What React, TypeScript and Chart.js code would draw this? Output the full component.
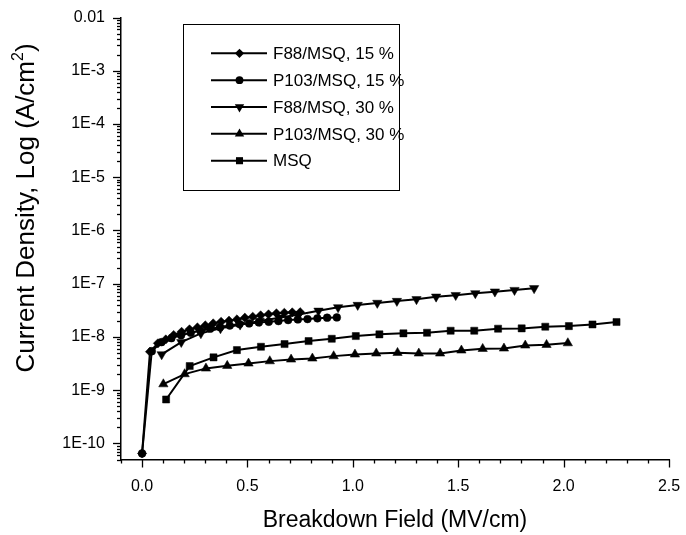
import React, { useEffect, useRef } from 'react';
import { Chart, registerables } from 'chart.js';
Chart.register(...registerables);

const FONT = '"Liberation Sans", Arial, Helvetica, sans-serif';

const xTickValues = [0, 0.5, 1.0, 1.5, 2.0, 2.5];
const xTickLabels = ['0.0', '0.5', '1.0', '1.5', '2.0', '2.5'];
const yTickValues = [1e-10, 1e-9, 1e-8, 1e-7, 1e-6, 1e-5, 1e-4, 1e-3, 1e-2];
const yTickLabels = ['1E-10', '1E-9', '1E-8', '1E-7', '1E-6', '1E-5', '1E-4', '1E-3', '0.01'];

const seriesNames = ['F88/MSQ, 15 %', 'P103/MSQ, 15 %', 'F88/MSQ, 30 %', 'P103/MSQ, 30 %', 'MSQ'];

const f88_15_x = [0, 0.0375, 0.075, 0.1125, 0.15, 0.1875, 0.225, 0.2625, 0.3, 0.3375, 0.375, 0.4125, 0.45, 0.4875, 0.525, 0.5625, 0.6, 0.6375, 0.675, 0.7125, 0.75];
const f88_15_y = [6.5e-11, 5.3e-9, 7.6e-9, 9.0e-9, 1.09e-8, 1.25e-8, 1.39e-8, 1.51e-8, 1.65e-8, 1.8e-8, 1.93e-8, 2.02e-8, 2.14e-8, 2.3e-8, 2.4e-8, 2.55e-8, 2.66e-8, 2.78e-8, 2.85e-8, 2.9e-8, 2.92e-8];
const p103_15_x = [0, 0.046, 0.092, 0.139, 0.185, 0.231, 0.277, 0.323, 0.37, 0.416, 0.462, 0.508, 0.554, 0.601, 0.647, 0.693, 0.739, 0.785, 0.832, 0.878, 0.924];
const p103_15_y = [6.5e-11, 5.4e-9, 8.0e-9, 9.5e-9, 1.08e-8, 1.2e-8, 1.31e-8, 1.43e-8, 1.53e-8, 1.64e-8, 1.75e-8, 1.8e-8, 1.88e-8, 1.93e-8, 1.99e-8, 2.08e-8, 2.14e-8, 2.17e-8, 2.24e-8, 2.3e-8, 2.33e-8];
const f88_30_x = [0.093, 0.186, 0.279, 0.372, 0.465, 0.558, 0.651, 0.744, 0.837, 0.93, 1.023, 1.116, 1.209, 1.302, 1.395, 1.488, 1.581, 1.674, 1.767, 1.86];
const f88_30_y = [4.7e-9, 8.0e-9, 1.17e-8, 1.45e-8, 1.7e-8, 2.0e-8, 2.3e-8, 2.65e-8, 3.1e-8, 3.6e-8, 3.98e-8, 4.35e-8, 4.73e-8, 5.1e-8, 5.7e-8, 6.1e-8, 6.6e-8, 7.1e-8, 7.6e-8, 8.2e-8];
const p103_30_x = [0.101, 0.202, 0.303, 0.404, 0.505, 0.606, 0.707, 0.808, 0.909, 1.01, 1.111, 1.212, 1.313, 1.414, 1.515, 1.616, 1.717, 1.818, 1.919, 2.02];
const p103_30_y = [1.3e-9, 2.01e-9, 2.57e-9, 2.88e-9, 3.19e-9, 3.52e-9, 3.79e-9, 3.96e-9, 4.37e-9, 4.71e-9, 4.92e-9, 5.05e-9, 4.92e-9, 4.92e-9, 5.6e-9, 6.0e-9, 6.1e-9, 6.95e-9, 7.13e-9, 7.67e-9];
const msq_x = [0.114, 0.226, 0.339, 0.45, 0.564, 0.676, 0.79, 0.9, 1.014, 1.126, 1.24, 1.352, 1.464, 1.576, 1.689, 1.801, 1.913, 2.025, 2.137, 2.251];
const msq_y = [6.7e-10, 2.84e-9, 4.14e-9, 5.67e-9, 6.55e-9, 7.36e-9, 8.38e-9, 9.25e-9, 1.04e-8, 1.12e-8, 1.17e-8, 1.2e-8, 1.31e-8, 1.31e-8, 1.43e-8, 1.45e-8, 1.56e-8, 1.6e-8, 1.72e-8, 1.91e-8];

const seriesX = [f88_15_x, p103_15_x, f88_30_x, p103_30_x, msq_x];
const seriesY = [f88_15_y, p103_15_y, f88_30_y, p103_30_y, msq_y];
const markerStyles = ['rectRot', 'circle', 'triangle', 'triangle', 'rect'];
const markerRot = [0, 0, 180, 0, 0];
const markerRadius = [4.6, 3.9, 5.4, 5.4, 5];

function drawMarker(ctx: CanvasRenderingContext2D, style: string, rot: number, x: number, y: number, r: number) {
  ctx.beginPath();
  if (style === 'circle') {
    ctx.arc(x, y, r, 0, Math.PI * 2);
  } else if (style === 'rect') {
    const s = r * Math.SQRT1_2;
    ctx.rect(x - s, y - s, 2 * s, 2 * s);
  } else if (style === 'rectRot') {
    ctx.moveTo(x - r, y);
    ctx.lineTo(x, y - r);
    ctx.lineTo(x + r, y);
    ctx.lineTo(x, y + r);
    ctx.closePath();
  } else {
    let a = (rot * Math.PI) / 180;
    for (let i = 0; i < 3; i++) {
      const px = x + Math.sin(a) * r;
      const py = y - Math.cos(a) * r;
      if (i === 0) ctx.moveTo(px, py);
      else ctx.lineTo(px, py);
      a += (2 * Math.PI) / 3;
    }
    ctx.closePath();
  }
  ctx.fill();
}

function zeroPadding(s: any) {
  s.paddingTop = 0;
  s.paddingBottom = 0;
  s.paddingLeft = 0;
  s.paddingRight = 0;
}

const decorPlugin = {
  id: 'decor',
  afterDraw(chart: any) {
    const ctx: CanvasRenderingContext2D = chart.ctx;
    const xs = chart.scales.x;
    const ys = chart.scales.y;
    const area = chart.chartArea;
    ctx.save();
    ctx.strokeStyle = '#000';
    ctx.fillStyle = '#000';
    ctx.lineWidth = 1.3;
    // x ticks: major every 0.5, minor every 0.1
    for (let k = -1; k <= 25; k++) {
      const v = k / 10;
      const px = Math.round(xs.getPixelForValue(v)) + 0.5;
      const len = k % 5 === 0 ? 8 : 4;
      ctx.beginPath();
      ctx.moveTo(px, area.bottom);
      ctx.lineTo(px, area.bottom + len);
      ctx.stroke();
    }
    // y ticks: log major/minor
    for (let e = -11; e <= -2; e++) {
      for (let m = 1; m <= 9; m++) {
        const v = m * Math.pow(10, e);
        if (v < ys.min * 0.999 || v > ys.max * 1.001) continue;
        const py = Math.round(ys.getPixelForValue(v)) + 0.5;
        const len = m === 1 ? 8 : 4;
        ctx.beginPath();
        ctx.moveTo(area.left, py);
        ctx.lineTo(area.left - len, py);
        ctx.stroke();
      }
    }
    // axis titles
    ctx.font = `23px ${FONT}`;
    ctx.textAlign = 'center';
    ctx.textBaseline = 'middle';
    ctx.fillText('Breakdown Field (MV/cm)', (area.left + area.right) / 2, 521);

    ctx.save();
    ctx.translate(27, 208);
    ctx.rotate(-Math.PI / 2);
    const p1 = 'Current Density, Log (A/cm';
    const p2 = '2';
    const p3 = ')';
    const big = `26px ${FONT}`;
    const small = `16px ${FONT}`;
    ctx.font = big;
    const w1 = ctx.measureText(p1).width;
    const w3 = ctx.measureText(p3).width;
    ctx.font = small;
    const w2 = ctx.measureText(p2).width;
    const total = w1 + w2 + w3;
    let cx = -total / 2;
    ctx.textAlign = 'left';
    ctx.font = big;
    ctx.fillText(p1, cx, 0);
    cx += w1;
    ctx.font = small;
    ctx.fillText(p2, cx, -8);
    cx += w2;
    ctx.font = big;
    ctx.fillText(p3, cx, 0);
    ctx.restore();

    // legend
    ctx.lineWidth = 1;
    ctx.strokeRect(183.5, 24.5, 216, 166);
    ctx.font = `17px ${FONT}`;
    ctx.textAlign = 'left';
    ctx.textBaseline = 'middle';
    for (let i = 0; i < seriesNames.length; i++) {
      const y = 53.3 + i * 26.85;
      ctx.lineWidth = 2;
      ctx.beginPath();
      ctx.moveTo(211, y);
      ctx.lineTo(267, y);
      ctx.stroke();
      drawMarker(ctx, markerStyles[i], markerRot[i], 239.5, y, markerRadius[i]);
      ctx.fillText(seriesNames[i], 273, y + 1);
    }
    ctx.restore();
  },
};

export default function App() {
  const ref = useRef<HTMLCanvasElement>(null);
  useEffect(() => {
    const datasets = seriesNames.map((name, i) => ({
      label: name,
      data: seriesX[i].map((x, j) => ({ x, y: seriesY[i][j] })),
      borderColor: '#000',
      backgroundColor: '#000',
      borderWidth: 2,
      pointStyle: markerStyles[i] as any,
      rotation: markerRot[i],
      pointRadius: markerRadius[i],
      pointBorderWidth: 0.5,
      pointBackgroundColor: '#000',
      pointBorderColor: '#000',
      showLine: true,
      fill: false,
      tension: 0,
    }));
    const chart = new Chart(ref.current!, {
      type: 'scatter',
      data: { datasets },
      options: {
        responsive: false,
        animation: false,
        devicePixelRatio: 1,
        layout: { autoPadding: false, padding: { top: 17.5, right: 17, left: 0, bottom: 0 } },
        plugins: { legend: { display: false }, tooltip: { enabled: false } },
        scales: {
          x: {
            type: 'linear',
            min: -0.1,
            max: 2.5,
            grid: { display: false, drawTicks: false },
            border: { display: true, color: '#000', width: 1.5 },
            ticks: {
              stepSize: 0.1,
              autoSkip: false,
              maxRotation: 0,
              padding: 17,
              color: '#000',
              font: { family: FONT, size: 16 },
              callback: (v: any) => {
                const idx = xTickValues.findIndex((t) => Math.abs(t - Number(v)) < 1e-6);
                return idx >= 0 ? xTickLabels[idx] : '';
              },
            },
            afterFit: (s: any) => {
              s.height = 75.5;
              zeroPadding(s);
            },
          },
          y: {
            type: 'logarithmic',
            min: 5e-11,
            max: 1e-2,
            grid: { display: false, drawTicks: false },
            border: { display: true, color: '#000', width: 1.5 },
            ticks: {
              autoSkip: false,
              padding: 16,
              color: '#000',
              font: { family: FONT, size: 16 },
              callback: (v: any) => {
                const idx = yTickValues.findIndex((t) => Math.abs(Number(v) / t - 1) < 1e-6);
                return idx >= 0 ? yTickLabels[idx] : '';
              },
            },
            afterFit: (s: any) => {
              s.width = 121;
              zeroPadding(s);
            },
          },
        },
      },
      plugins: [decorPlugin],
    });
    return () => chart.destroy();
  }, []);
  return (
    <div style={{ position: 'absolute', left: 0, top: 0, width: 686, height: 535, background: '#fff' }}>
      <canvas ref={ref} width={686} height={535} style={{ display: 'block', width: 686, height: 535 }} />
    </div>
  );
}
